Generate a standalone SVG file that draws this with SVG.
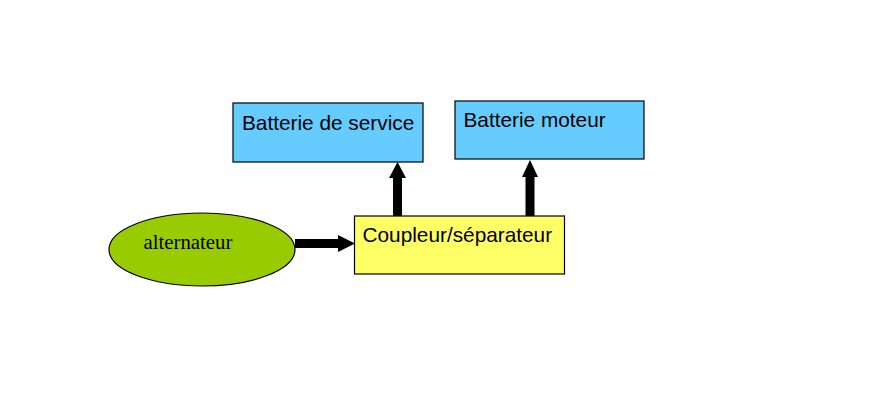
<svg xmlns="http://www.w3.org/2000/svg" width="886" height="413" viewBox="0 0 886 413">
<style>
.box{stroke:#000;stroke-width:1.2}
.blue{fill:#66CCFF}
.yellow{fill:#FFFF66}
.green{fill:#99CC00}
.sans{font-family:"Liberation Sans",Arial,sans-serif;font-size:20.8px;fill:#000}
.serif{font-family:"Liberation Serif","Times New Roman",serif;font-size:20.8px;fill:#000}
.conn{stroke:#000;stroke-width:9;fill:none}
.head{fill:#000}
</style>
<rect width="886" height="413" fill="#fff"/>
<g id="connectors">
<line class="conn" x1="295" y1="243.5" x2="340" y2="243.5"/>
<polygon class="head" points="338,235 355,243.5 338,252"/>
<line class="conn" x1="397.5" y1="216" x2="397.5" y2="175"/>
<polygon class="head" points="389,178 397.5,162 406,178"/>
<line class="conn" x1="530" y1="216" x2="530" y2="175"/>
<polygon class="head" points="522,177 530,160 538,177"/>
</g>
<g id="service">
<rect class="box blue" x="233" y="103" width="190" height="59"/>
<text class="sans" x="242" y="130">Batterie de service</text>
</g>
<g id="moteur">
<rect class="box blue" x="455" y="101" width="189" height="58"/>
<text class="sans" x="463.5" y="127">Batterie moteur</text>
</g>
<g id="coupleur">
<rect class="box yellow" x="354.5" y="216" width="210" height="58"/>
<text class="sans" x="362.5" y="242">Coupleur/séparateur</text>
</g>
<g id="alternateur">
<ellipse class="box green" cx="202" cy="249.5" rx="93" ry="36.5"/>
<text class="serif" x="143.5" y="249">alternateur</text>
</g>
</svg>
